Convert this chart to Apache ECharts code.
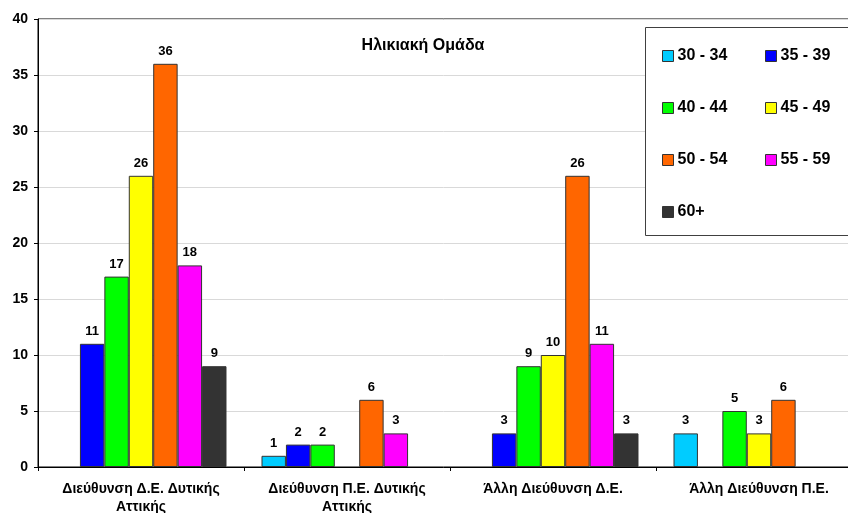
<!DOCTYPE html>
<html>
<head>
<meta charset="utf-8">
<script src="https://cdn.jsdelivr.net/npm/echarts@6/dist/echarts.min.js"></script>
<style>
  html, body { margin: 0; padding: 0; background: #fff; }
  #chart { width: 848px; height: 513px; }
</style>
</head>
<body>
<div id="chart"></div>
<script>
// Departments (x categories)
const categories = [
  'Διεύθυνση Δ.Ε. Δυτικής\nΑττικής',
  'Διεύθυνση Π.Ε. Δυτικής\nΑττικής',
  'Άλλη Διεύθυνση Δ.Ε.',
  'Άλλη Διεύθυνση Π.Ε.'
];

// Age groups
const ageGroups = ['30 - 34', '35 - 39', '40 - 44', '45 - 49', '50 - 54', '55 - 59', '60+'];

// Counts per age group, one value per department
const age30_34 = [0, 1, 0, 3];
const age35_39 = [11, 2, 3, 0];
const age40_44 = [17, 2, 9, 5];
const age45_49 = [26, 0, 10, 3];
const age50_54 = [36, 6, 26, 6];
const age55_59 = [18, 3, 11, 0];
const age60p   = [9, 0, 3, 0];

const yTicks = { min: 0, max: 40, step: 5 };

const seriesValues = [age30_34, age35_39, age40_44, age45_49, age50_54, age55_59, age60p];
const colors = ['#00CCFF', '#0000FF', '#00FF00', '#FFFF00', '#FF6600', '#FF00FF', '#333333'];

const FONT = '"Liberation Sans", Arial, sans-serif';

const chart = echarts.init(document.getElementById('chart'), null, { renderer: 'canvas' });

const series = ageGroups.map((name, i) => ({
  name,
  type: 'bar',
  barGap: '0%',
  barCategoryGap: '17%',
  // empty groups are left out rather than drawn as zero-height bars
  data: seriesValues[i].map(v => (v === 0 ? '-' : v)),
  itemStyle: { color: colors[i], borderColor: '#333', borderWidth: 1 },
  label: {
    show: true,
    position: 'top',
    distance: 6,
    color: '#000',
    fontFamily: FONT,
    fontWeight: 'bold',
    fontSize: 13
  }
}));

const legendCommon = {
  orient: 'vertical',
  icon: 'rect',
  itemWidth: 11,
  itemHeight: 11,
  itemGap: 36,
  padding: 0,
  z: 10,
  selectedMode: false,
  textStyle: { fontFamily: FONT, fontWeight: 'bold', fontSize: 16, color: '#000', lineHeight: 16, padding: [0, 0, 0, -1] },
  itemStyle: { borderColor: '#333', borderWidth: 1 }
};

chart.setOption({
  animation: false,
  backgroundColor: '#fff',
  title: {
    text: 'Ηλικιακή Ομάδα',
    left: 418,
    top: 33,
    textAlign: 'center',
    textStyle: { fontFamily: FONT, fontWeight: 'bold', fontSize: 16, color: '#000' }
  },
  grid: {
    left: 38, top: 19, right: -14, bottom: 46,
    outerBoundsMode: 'none',
    containLabel: false,
    show: true, borderColor: '#000', borderWidth: 1, backgroundColor: 'transparent'
  },
  graphic: [{
    type: 'rect',
    z: 5,
    shape: { x: 645.5, y: 27.5, width: 220, height: 208 },
    style: { fill: '#fff', stroke: '#404040', lineWidth: 1 }
  }],
  legend: [
    Object.assign({}, legendCommon, { left: 662, top: 48, data: ['30 - 34', '40 - 44', '50 - 54', '60+'] }),
    Object.assign({}, legendCommon, { left: 765, top: 48, data: ['35 - 39', '45 - 49', '55 - 59'] })
  ],
  xAxis: {
    type: 'category',
    data: categories,
    axisLine: { lineStyle: { color: '#000', width: 1 } },
    axisTick: { show: true, length: 4, alignWithLabel: false, lineStyle: { color: '#000' } },
    axisLabel: {
      interval: 0, margin: 13, color: '#000', fontFamily: FONT, fontWeight: 'bold',
      fontSize: 14, lineHeight: 18
    }
  },
  yAxis: {
    type: 'value',
    min: yTicks.min, max: yTicks.max, interval: yTicks.step,
    axisLine: { show: true, lineStyle: { color: '#000', width: 1 } },
    axisTick: { show: true, length: 4, lineStyle: { color: '#000' } },
    axisLabel: { margin: 10, color: '#000', fontFamily: FONT, fontWeight: 'bold', fontSize: 14 },
    splitLine: { lineStyle: { color: '#d9d9d9', width: 1 } }
  },
  series
});
</script>
</body>
</html>
